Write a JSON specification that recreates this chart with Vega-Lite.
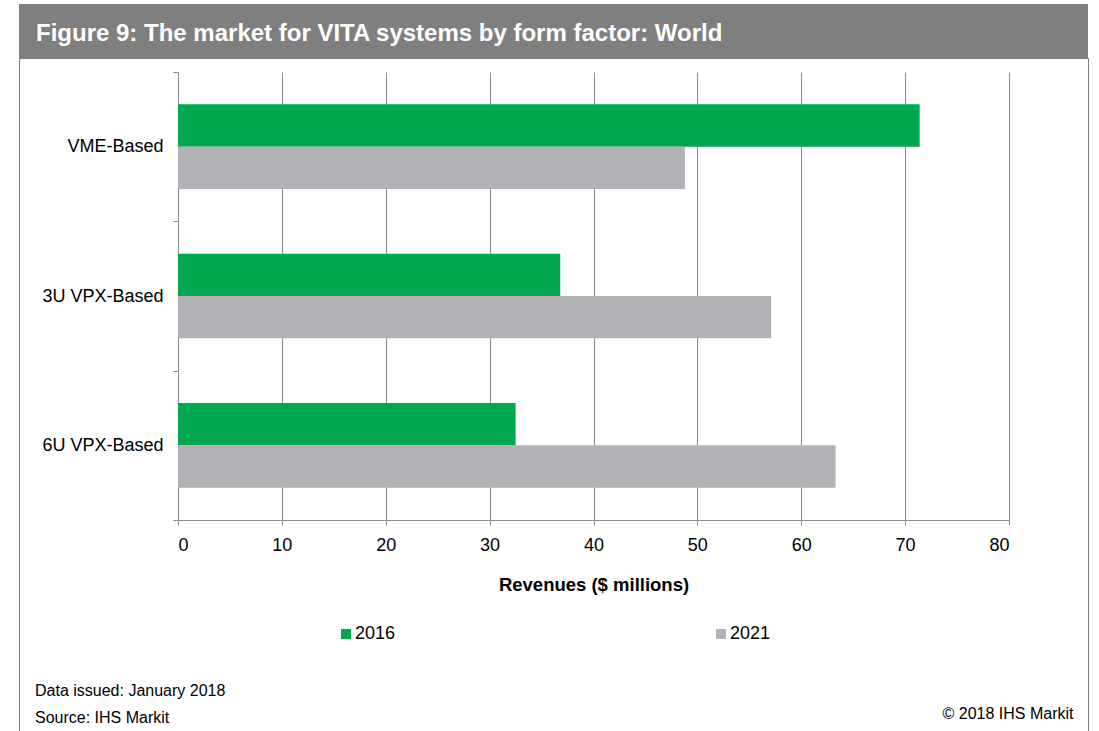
{
  "$schema": "https://vega.github.io/schema/vega-lite/v6.json",
  "padding": {"left": 18, "top": 4, "right": 0, "bottom": 0},
  "background": "white",
  "spacing": 0,
  "bounds": "flush",
  "config": {
    "font": "Liberation Sans",
    "view": {"stroke": null}
  },
  "title": {
    "text": "© 2018 IHS Markit",
    "orient": "bottom",
    "anchor": "end",
    "baseline": "alphabetic",
    "offset": -13,
    "dx": -15,
    "fontSize": 16,
    "fontWeight": "normal",
    "color": "black",
    "font": "Liberation Sans"
  },
  "vconcat": [
    {
      "width": 1069,
      "height": 54,
      "view": {"fill": "#7f7f7f", "stroke": null},
      "title": {
        "text": "Figure 9: The market for VITA systems by form factor: World",
        "orient": "bottom",
        "anchor": "start",
        "baseline": "alphabetic",
        "offset": -17,
        "dx": 17,
        "color": "white",
        "fontSize": 24,
        "fontWeight": "bold",
        "font": "Liberation Sans"
      },
      "data": {"values": [{"t": ""}]},
      "mark": {"type": "text"},
      "encoding": {"text": {"field": "t", "type": "nominal"}}
    },
    {
      "width": 1069,
      "height": 673,
      "view": {"fill": "white", "stroke": "#7f7f7f", "strokeWidth": 1},
      "title": {
        "text": "Data issued: January 2018",
        "subtitle": "Source: IHS Markit",
        "orient": "bottom",
        "anchor": "start",
        "baseline": "alphabetic",
        "offset": -35,
        "dx": 16,
        "fontSize": 16,
        "fontWeight": "normal",
        "color": "black",
        "subtitleFontSize": 16,
        "subtitleColor": "black",
        "subtitlePadding": 11,
        "font": "Liberation Sans",
        "subtitleFont": "Liberation Sans"
      },
      "data": {
        "values": [
          {"category": "VME-Based", "year": "2016", "revenue": 71.4},
          {"category": "VME-Based", "year": "2021", "revenue": 48.8},
          {"category": "3U VPX-Based", "year": "2016", "revenue": 36.8},
          {"category": "3U VPX-Based", "year": "2021", "revenue": 57.1},
          {"category": "6U VPX-Based", "year": "2016", "revenue": 32.5},
          {"category": "6U VPX-Based", "year": "2021", "revenue": 63.3}
        ]
      },
      "resolve": {"axis": {"x": "independent"}},
      "layer": [
        {
          "mark": {"type": "bar"},
          "encoding": {
            "y": {
              "field": "category",
              "type": "nominal",
              "sort": ["VME-Based", "3U VPX-Based", "6U VPX-Based"],
              "scale": {"range": [14, 462], "paddingInner": 0, "paddingOuter": 0},
              "axis": {
                "title": null,
                "orient": "left",
                "offset": -159,
                "tickBand": "extent",
                "tickSize": 5,
                "tickColor": "#8c8c8c",
                "domainColor": "#8c8c8c",
                "labelPadding": 10,
                "labelFontSize": 18,
                "labelColor": "black",
                "labelFont": "Liberation Sans",
                "labelLimit": 0,
                "grid": false
              }
            },
            "yOffset": {
              "field": "year",
              "type": "nominal",
              "sort": ["2016", "2021"],
              "scale": {"paddingInner": 0, "paddingOuter": 0.765}
            },
            "x": {
              "field": "revenue",
              "type": "quantitative",
              "scale": {"domain": [0, 80], "range": [159, 990], "nice": false, "zero": true},
              "axis": {
                "orient": "top",
                "values": [10, 20, 30, 40, 50, 60, 70, 80],
                "grid": true,
                "gridScale": "concat_1_y",
                "gridColor": "#8c8c8c",
                "gridWidth": 1,
                "domain": false,
                "ticks": false,
                "labels": false,
                "title": null
              }
            },
            "color": {
              "field": "year",
              "type": "nominal",
              "scale": {"domain": ["2016", "2021"], "range": ["#00A94F", "#B1B2B5"]},
              "legend": {
                "title": null,
                "orient": "none",
                "legendX": 318,
                "legendY": 621,
                "direction": "horizontal",
                "symbolType": "square",
                "symbolSize": 100,
                "symbolStrokeWidth": 0,
                "labelFontSize": 18,
                "labelColor": "black",
                "labelFont": "Liberation Sans",
                "labelOffset": 0,
                "columnPadding": 316,
                "padding": 0
              }
            }
          }
        },
        {
          "mark": {"type": "text", "text": ""},
          "encoding": {
            "x": {
              "field": "revenue",
              "type": "quantitative",
              "axis": {
                "orient": "bottom",
                "offset": -211,
                "values": [0, 10, 20, 30, 40, 50, 60, 70, 80],
                "grid": false,
                "domainColor": "#8c8c8c",
                "tickColor": "#8c8c8c",
                "tickSize": 5,
                "labelPadding": 11,
                "labelFontSize": 18,
                "labelColor": "black",
                "labelFont": "Liberation Sans",
                "title": "Revenues ($ millions)",
                "titleFontSize": 18.5,
                "titleFontWeight": "bold",
                "titleColor": "black",
                "titleFont": "Liberation Sans",
                "titlePadding": 21
              }
            }
          }
        }
      ]
    }
  ]
}
